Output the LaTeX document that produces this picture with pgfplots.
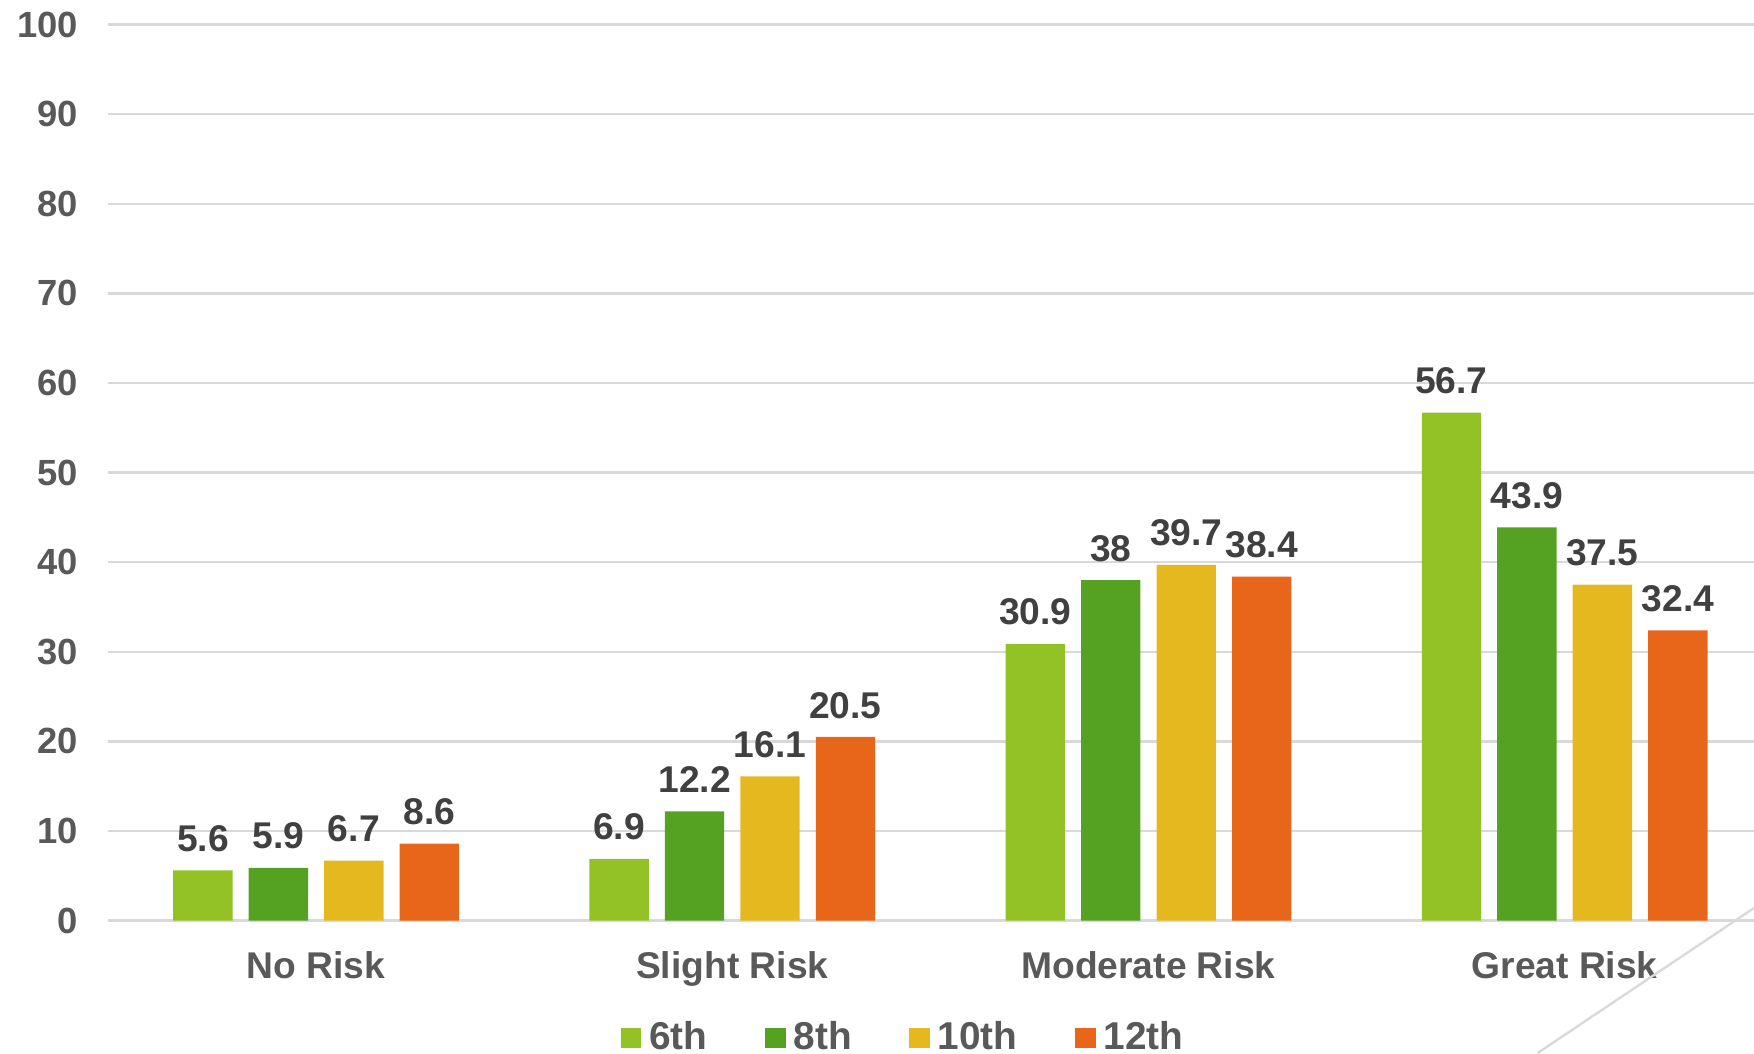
\documentclass[border=0pt]{standalone}
\usepackage{pgfplots}
\pgfplotsset{compat=1.18}
\usepackage{fontspec}
\setmainfont{Liberation Sans}
\definecolor{csix}{HTML}{92C225}
\definecolor{ceight}{HTML}{55A222}
\definecolor{cten}{HTML}{E6B820}
\definecolor{ctwelve}{HTML}{E8661A}
\definecolor{gridgray}{HTML}{D9D9D9}
\definecolor{tickgray}{HTML}{595959}
\definecolor{labelgray}{HTML}{404040}
\begin{document}
\begin{tikzpicture}[x=1pt,y=1pt]
\useasboundingbox (0,0) rectangle (438.5,263.25);
\begin{axis}[
  at={(27pt,33.1pt)}, anchor=south west,
  width=411.5pt, height=224pt, scale only axis,
  /pgf/number format/assume math mode=true,
  xmin=-0.5, xmax=3.455, ymin=0, ymax=100,
  ytick={0,10,...,100},
  xtick={0,1,2,3},
  xticklabels={No Risk,Slight Risk,Moderate Risk,Great Risk},
  axis line style={draw=none},
  major tick length=0pt,
  ymajorgrids,
  grid style={draw=gridgray, line width=0.6pt},
  ybar, bar width=0.1426,
  yticklabel style={font=\bfseries\fontsize{9.1}{10}\selectfont, text=tickgray, xshift=-4pt},
  xticklabel style={font=\bfseries\fontsize{9.3}{10}\selectfont, text=tickgray, yshift=-4.1pt},
  nodes near coords,
  nodes near coords style={font=\bfseries\fontsize{9.3}{10}\selectfont, text=labelgray, yshift=1.1pt},
  legend columns=4,
  legend style={at={(0.4848,-0.131)}, anchor=center, draw=none, fill=none,
    font=\bfseries\fontsize{9.7}{11}\selectfont, text=tickgray,
    /tikz/every even column/.append style={column sep=12.3pt}},
  legend image code/.code={\fill (0pt,-2.6pt) rectangle (5.2pt,2.6pt);},
]
\addplot[fill=csix, draw=none, bar shift=-0.272] coordinates {(0,5.6) (1,6.9) (2,30.9) (3,56.7)};
\addplot[fill=ceight, draw=none, bar shift=-0.0907] coordinates {(0,5.9) (1,12.2) (2,38) (3,43.9)};
\addplot[fill=cten, draw=none, bar shift=0.0907] coordinates {(0,6.7) (1,16.1) (2,39.7) (3,37.5)};
\addplot[fill=ctwelve, draw=none, bar shift=0.272] coordinates {(0,8.6) (1,20.5) (2,38.4) (3,32.4)};
\legend{6th,8th,10th,12th}
\end{axis}
\draw[gridgray, line width=0.6pt] (384.4,0) -- (438.5,36.25);
\end{tikzpicture}
\end{document}
